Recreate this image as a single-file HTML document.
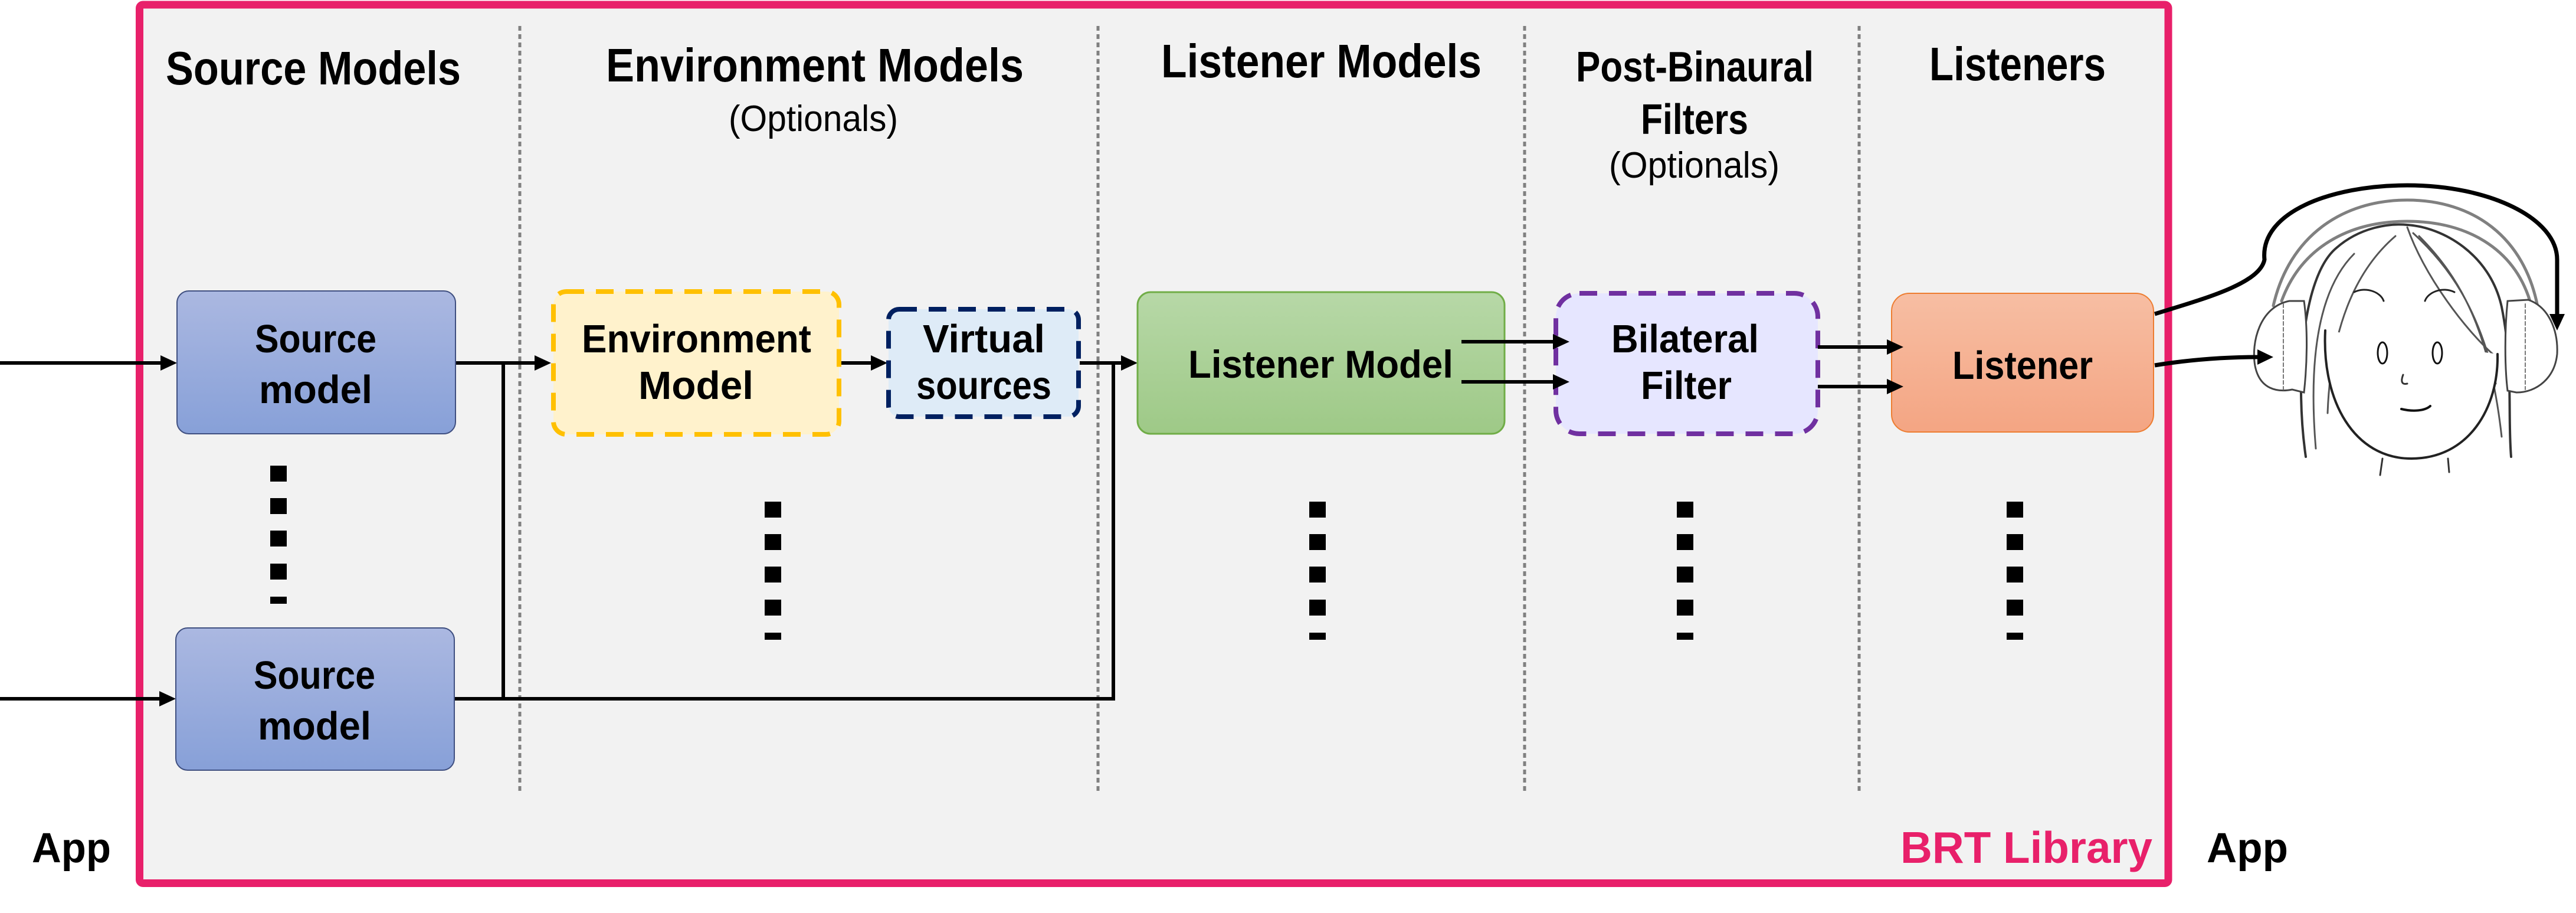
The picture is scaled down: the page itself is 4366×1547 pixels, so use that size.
<!DOCTYPE html>
<html><head><meta charset="utf-8"><style>
html,body{margin:0;padding:0;background:#fff;}
svg{display:block;}
text{font-family:"Liberation Sans",sans-serif;font-weight:bold;fill:#000;}
.n{font-weight:normal;}
</style></head><body>
<svg width="4366" height="1547" viewBox="0 0 4366 1547" xmlns="http://www.w3.org/2000/svg">
<defs>
<linearGradient id="gb" x1="0" y1="0" x2="0" y2="1"><stop offset="0" stop-color="#abb8e1"/><stop offset="1" stop-color="#87a0d8"/></linearGradient>
<linearGradient id="gg" x1="0" y1="0" x2="0" y2="1"><stop offset="0" stop-color="#b7d8a7"/><stop offset="1" stop-color="#9ec987"/></linearGradient>
<linearGradient id="go" x1="0" y1="0" x2="0" y2="1"><stop offset="0" stop-color="#f7bea3"/><stop offset="1" stop-color="#f4a583"/></linearGradient>
<g id="dc"><rect x="0" y="850" width="28" height="27"/><rect x="0" y="905" width="28" height="27"/><rect x="0" y="960" width="28" height="27"/><rect x="0" y="1016" width="28" height="27"/><rect x="0" y="1072" width="28" height="12"/></g>
</defs>
<!-- library panel -->
<rect x="236.5" y="8" width="3438.5" height="1488.5" rx="6" fill="#f2f2f2" stroke="#e8206a" stroke-width="13"/>
<!-- dotted separators -->
<g stroke="#808080" stroke-width="5" stroke-dasharray="8 6">
<line x1="881" y1="44" x2="881" y2="1342"/>
<line x1="1861" y1="44" x2="1861" y2="1342"/>
<line x1="2584" y1="44" x2="2584" y2="1342"/>
<line x1="3151" y1="44" x2="3151" y2="1342"/>
</g>
<!-- headers -->
<text x="281" y="143" font-size="80" textLength="500" lengthAdjust="spacingAndGlyphs">Source Models</text>
<text x="1027" y="138" font-size="80" textLength="708" lengthAdjust="spacingAndGlyphs">Environment Models</text>
<text class="n" x="1235" y="222" font-size="62" textLength="287" lengthAdjust="spacingAndGlyphs">(Optionals)</text>
<text x="1968" y="131" font-size="80" textLength="543" lengthAdjust="spacingAndGlyphs">Listener Models</text>
<text x="2671" y="138" font-size="72" textLength="403" lengthAdjust="spacingAndGlyphs">Post-Binaural</text>
<text x="2781" y="227" font-size="72" textLength="182" lengthAdjust="spacingAndGlyphs">Filters</text>
<text class="n" x="2727" y="301" font-size="62" textLength="289" lengthAdjust="spacingAndGlyphs">(Optionals)</text>
<text x="3270" y="136" font-size="80" textLength="299" lengthAdjust="spacingAndGlyphs">Listeners</text>
<!-- connectors -->
<g stroke="#000" stroke-width="6" fill="none">
<line x1="0" y1="615" x2="280" y2="615"/>
<line x1="0" y1="1184" x2="278" y2="1184"/>
<line x1="772" y1="615" x2="914" y2="615"/>
<polyline points="853,615 853,1184"/>
<polyline points="770,1184 1887,1184 1887,615"/>
<line x1="1424" y1="615" x2="1484" y2="615"/>
<line x1="1830" y1="615" x2="1908" y2="615"/>
</g>
<g fill="#000">
<polygon points="272,602 300,615 272,628"/>
<polygon points="270,1171 298,1184 270,1197"/>
<polygon points="906,602 934,615 906,628"/>
<polygon points="1476,602 1504,615 1476,628"/>
<polygon points="1900,602 1928,615 1900,628"/>
</g>
<!-- source boxes -->
<rect x="300" y="493" width="472" height="242" rx="20" fill="url(#gb)" stroke="#3f4f80" stroke-width="2"/>
<text x="432" y="597" font-size="67" textLength="206" lengthAdjust="spacingAndGlyphs">Source</text>
<text x="439" y="683" font-size="67" textLength="192" lengthAdjust="spacingAndGlyphs">model</text>
<rect x="298" y="1064" width="472" height="241" rx="20" fill="url(#gb)" stroke="#3f4f80" stroke-width="2"/>
<text x="430" y="1167" font-size="67" textLength="206" lengthAdjust="spacingAndGlyphs">Source</text>
<text x="437" y="1253" font-size="67" textLength="192" lengthAdjust="spacingAndGlyphs">model</text>
<!-- env model -->
<rect x="938" y="494" width="484" height="242" rx="22" fill="#fff2cc" stroke="#ffc000" stroke-width="8" stroke-dasharray="30 20"/>
<text x="986" y="597" font-size="67" textLength="389" lengthAdjust="spacingAndGlyphs">Environment</text>
<text x="1082" y="676" font-size="67" textLength="195" lengthAdjust="spacingAndGlyphs">Model</text>
<!-- virtual sources -->
<rect x="1506" y="524" width="322" height="182" rx="18" fill="#deebf7" stroke="#002060" stroke-width="8" stroke-dasharray="30 20"/>
<text x="1564" y="597" font-size="67" textLength="207" lengthAdjust="spacingAndGlyphs">Virtual</text>
<text x="1553" y="676" font-size="67" textLength="229" lengthAdjust="spacingAndGlyphs">sources</text>
<!-- listener model -->
<rect x="1928" y="495" width="622" height="240" rx="22" fill="url(#gg)" stroke="#70ad47" stroke-width="3"/>
<text x="2014" y="640" font-size="66" textLength="449" lengthAdjust="spacingAndGlyphs">Listener Model</text>
<!-- bilateral -->
<rect x="2637" y="497" width="444" height="238" rx="40" fill="#e6e6ff" stroke="#7030a0" stroke-width="8" stroke-dasharray="30 20"/>
<text x="2731" y="597" font-size="67" textLength="250" lengthAdjust="spacingAndGlyphs">Bilateral</text>
<text x="2781" y="676" font-size="67" textLength="154" lengthAdjust="spacingAndGlyphs">Filter</text>
<!-- listener -->
<rect x="3206" y="497" width="444" height="235" rx="30" fill="url(#go)" stroke="#ed7d31" stroke-width="2"/>
<text x="3309" y="642" font-size="67" textLength="238" lengthAdjust="spacingAndGlyphs">Listener</text>
<g stroke="#000" stroke-width="6" fill="none">
<line x1="2477" y1="579" x2="2640" y2="579"/>
<line x1="2477" y1="647" x2="2640" y2="647"/>
<line x1="3081" y1="588" x2="3206" y2="588"/>
<line x1="3081" y1="655" x2="3206" y2="655"/>
</g>
<g fill="#000">
<polygon points="2632,566 2660,579 2632,592"/>
<polygon points="2632,634 2660,647 2632,660"/>
<polygon points="3198,575 3226,588 3198,601"/>
<polygon points="3198,642 3226,655 3198,668"/>
</g>
<!-- dot columns -->
<g fill="#000">
<rect x="458" y="789" width="28" height="27"/><rect x="458" y="844" width="28" height="27"/><rect x="458" y="899" width="28" height="27"/><rect x="458" y="955" width="28" height="27"/><rect x="458" y="1011" width="28" height="12"/>
<use href="#dc" x="1296"/>
<use href="#dc" x="2219"/>
<use href="#dc" x="2842"/>
<use href="#dc" x="3401"/>
</g>
<!-- bottom labels -->
<text x="54" y="1461" font-size="71" textLength="134" lengthAdjust="spacingAndGlyphs">App</text>
<text x="3740" y="1461" font-size="71" textLength="138" lengthAdjust="spacingAndGlyphs">App</text>
<text x="3221" y="1462" font-size="75" textLength="427" lengthAdjust="spacingAndGlyphs" style="fill:#e8206a">BRT Library</text>
<!-- head sketch -->
<g fill="none" stroke-linecap="round">
<path d="M3908,774 C3890,650 3900,470 3960,420 C4000,385 4050,378 4080,381 C4140,385 4220,430 4240,520 C4260,620 4250,700 4256,774" stroke="#333" stroke-width="4"/>
<path d="M3925,760 C3915,640 3920,500 3990,430 M3945,700 C3950,560 3990,460 4060,400 M4090,395 C4150,450 4200,520 4230,650 M4100,400 C4170,470 4220,560 4240,740 M4080,385 C4110,470 4180,560 4225,600" stroke="#555" stroke-width="3"/>
<path d="M3941,560 C3935,680 3990,777 4087,777 C4185,777 4235,690 4233,600" stroke="#222" stroke-width="4" fill="#fff"/>
<path d="M3990,495 C4010,485 4035,495 4040,510 M4110,510 C4115,495 4140,485 4160,495" stroke="#222" stroke-width="3"/>
<ellipse cx="4038" cy="598" rx="8" ry="18" stroke="#111" stroke-width="3"/>
<ellipse cx="4131" cy="598" rx="8" ry="18" stroke="#111" stroke-width="3"/>
<path d="M4073,635 C4068,648 4072,652 4080,650" stroke="#333" stroke-width="3"/>
<path d="M4070,693 C4090,698 4110,696 4119,688" stroke="#111" stroke-width="4"/>
<path d="M4038,777 L4034,805 M4149,777 L4151,800" stroke="#333" stroke-width="3"/>
<path d="M3853,518 C3880,400 3970,339 4080,339 C4190,339 4280,400 4302,525" stroke="#808080" stroke-width="5"/>
<path d="M3867,510 C3900,420 3980,375 4080,375 C4180,375 4260,420 4288,510" stroke="#808080" stroke-width="5"/>
<path d="M3880,510 C3830,520 3815,580 3822,620 C3830,660 3860,665 3885,660 L3905,665 C3910,620 3912,560 3905,510 Z" stroke="#444" stroke-width="3" fill="#fff"/>
<path d="M3870,515 L3870,660" stroke="#777" stroke-width="2" stroke-dasharray="6 4"/>
<path d="M4250,510 C4245,560 4245,620 4250,662 L4265,665 C4300,665 4330,640 4334,600 C4336,560 4320,520 4285,508 Z" stroke="#444" stroke-width="3" fill="#fff"/>
<path d="M4280,515 L4280,660" stroke="#777" stroke-width="2" stroke-dasharray="6 4"/>
</g>
<g stroke="#000" stroke-width="7" fill="none">
<path d="M3652,532 C3740,505 3830,480 3838,440 C3830,360 3950,314 4080,314 C4220,314 4334,370 4334,440 L4334,535"/>
<path d="M3652,619 C3720,608 3780,605 3830,605"/>
</g>
<g fill="#000">
<polygon points="4321,532 4334,560 4347,532"/>
<polygon points="3826,592 3853,605 3826,618"/>
</g>
</svg>
</body></html>
